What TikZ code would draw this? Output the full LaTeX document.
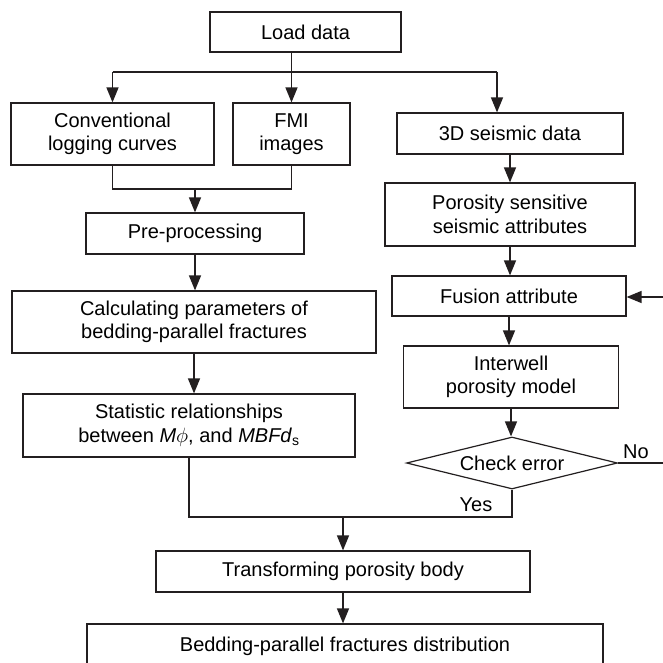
\documentclass[tikz,border=0pt]{standalone}
\usepackage{fontspec}
\setmainfont{Liberation Sans}
\usetikzlibrary{shapes.geometric,arrows.meta}
\definecolor{lncol}{HTML}{231F20}
\begin{document}
\begin{tikzpicture}[x=1pt,y=-1pt,
  box/.style={draw=lncol, line width=1.2pt, rectangle, inner sep=0pt, align=center,
    font=\fontsize{20}{23.5}\selectfont, text=black},
  lbl/.style={inner sep=0pt, font=\fontsize{20}{23.5}\selectfont, text=black},
  arr/.style={draw=lncol, line width=1.4pt, -{Triangle[width=12pt,length=15pt]}},
  lnk/.style={draw=lncol, line width=1.3pt}]
\useasboundingbox (0,0) rectangle (663,663);
\clip (0,0) rectangle (663,663);
\fill[white] (0,0) rectangle (663,663);

\node[box, minimum width=191, minimum height=40] (load) at (305.5,32) {Load data};
\node[box, minimum width=203, minimum height=62] (conv) at (112.5,134) {Conventional\\logging curves};
\node[box, minimum width=117, minimum height=62] (fmi) at (291.5,134) {FMI\\images};
\node[box, minimum width=226, minimum height=41] (seis) at (510,133.5) {3D seismic data};
\node[box, minimum width=218, minimum height=41] (pre) at (195,233.5) {Pre-processing};
\node[box, minimum width=250, minimum height=63] (poro) at (510,214.5) {Porosity sensitive\\seismic attributes};
\node[box, minimum width=364, minimum height=62] (calc) at (194,322) {Calculating parameters of\\bedding-parallel fractures};
\node[box, minimum width=234, minimum height=40] (fus) at (509,296) {Fusion attribute};
\node[box, minimum width=215, minimum height=62] (inter) at (511,377) {Interwell\\porosity model};
\node[box, minimum width=332, minimum height=63] (stat) at (189,425.5) {Statistic relationships\\between \textit{M}$\phi$, and \textit{MBFd}\textsubscript{s}};
\node[box, diamond, shape aspect=4, minimum width=211, minimum height=52] (chk) at (512,463) {Check error};
\node[box, minimum width=374, minimum height=41] (trans) at (343,571.5) {Transforming porosity body};
\node[box, minimum width=516, minimum height=44] (dist) at (345,646) {Bedding-parallel fractures distribution};

\coordinate (hl) at (112.5,72);
\coordinate (hr) at (497,72);
\coordinate (mj) at (0,189);
\coordinate (yj) at (0,517);
\coordinate (noend) at (663,463);
\coordinate (fin) at (663,297);

\draw[arr] (load.south -| fmi.north) -- (fmi.north);
\draw[lnk] (hl) -- (hr);
\draw[arr] (hl) -- (hl |- conv.north);
\draw[arr] (hr) -- (hr |- seis.north);
\draw[lnk] (conv.south) -- (conv.south |- mj) -- (fmi.south |- mj) -- (fmi.south);
\draw[arr] (pre.north |- mj) -- (pre.north);
\draw[arr] (pre.south) -- (pre.south |- calc.north);
\draw[arr] (calc.south) -- (calc.south |- stat.north);
\draw[lnk] (stat.south) -- (stat.south |- yj) -- (chk.south |- yj) -- (chk.south);
\draw[arr] (trans.north |- yj) -- (trans.north);
\draw[arr] (trans.south) -- (trans.south |- dist.north);
\draw[arr] (seis.south) -- (seis.south |- poro.north);
\draw[arr] (poro.south) -- (poro.south |- fus.north);
\draw[arr] (fus.south) -- (fus.south |- inter.north);
\draw[arr] (inter.south) -- (inter.south |- chk.north);
\draw[lnk] (chk.east) -- (noend);
\draw[arr] (fin) -- (fin -| fus.east);

\node[lbl] (nolbl) at (636,452) {No};
\node[lbl] (yeslbl) at (476,505) {Yes};
\end{tikzpicture}
\end{document}
